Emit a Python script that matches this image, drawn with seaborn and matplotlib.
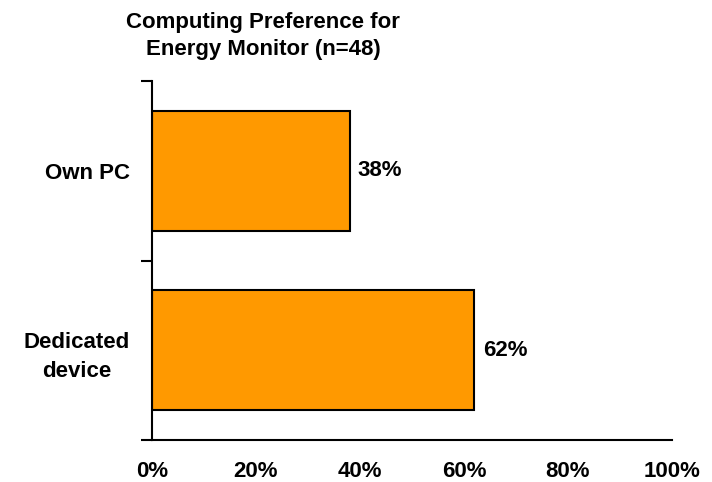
import matplotlib
matplotlib.use("Agg")
import matplotlib.pyplot as plt
import seaborn as sns
import pandas as pd
from matplotlib.ticker import FixedLocator, PercentFormatter

categories = ["Own PC", "Dedicated\ndevice"]
shares = [38, 62]
x_ticks = [0, 20, 40, 60, 80, 100]
title_lines = ["Computing Preference for", "Energy Monitor (n=48)"]

sns.set_theme(style="white")
plt.rcParams["font.family"] = ["Liberation Sans", "DejaVu Sans"]
plt.rcParams["font.weight"] = "bold"

FS = 16

df = pd.DataFrame({"category": categories, "share": shares})

fig = plt.figure(figsize=(7.12, 4.82), dpi=100)
ax = fig.add_axes([152 / 712, 1 - 440 / 482, 520 / 712, 359 / 482])

sns.barplot(data=df, y="category", x="share", orient="h", color="#FF9900",
            saturation=1, edgecolor="black", linewidth=1.5, width=0.67, ax=ax)

ax.set_xlim(0, 100)
ax.set_ylim(1.5, -0.5)
ax.set_xlabel("")
ax.set_ylabel("")

ax.xaxis.set_major_locator(FixedLocator(x_ticks))
ax.xaxis.set_major_formatter(PercentFormatter(decimals=0))
ax.tick_params(axis="x", which="major", direction="out", length=6, width=1.5,
               color="black", pad=9, labelsize=FS, labelcolor="black")

# category boundaries carry the tick marks, category centres carry the labels
ax.yaxis.set_minor_locator(FixedLocator([-0.5, 0.5, 1.5]))
ax.tick_params(axis="y", which="minor", direction="out", length=8, width=1.5,
               color="black", left=True)
ax.tick_params(axis="y", which="major", length=0, pad=16, labelsize=FS,
               labelcolor="black")
for lbl in ax.get_yticklabels():
    lbl.set_multialignment("center")
    lbl.set_linespacing(1.5)
    lbl.set_fontweight("bold")
for lbl in ax.get_xticklabels():
    lbl.set_fontweight("bold")

for side in ("top", "right"):
    ax.spines[side].set_visible(False)
for side in ("left", "bottom"):
    ax.spines[side].set_color("black")
    ax.spines[side].set_linewidth(1.5)

for i, v in enumerate(shares):
    ax.annotate(f"{v}%", xy=(v, i), xytext=(6, 0), textcoords="offset points",
                ha="left", va="center", fontsize=FS, fontweight="bold",
                color="black")

fig.text(263 / 712, 1 - 36 / 482, "\n".join(title_lines), ha="center",
         va="center", fontsize=FS, fontweight="bold", color="black",
         linespacing=1.4)

fig.savefig("out.png", dpi=100)
